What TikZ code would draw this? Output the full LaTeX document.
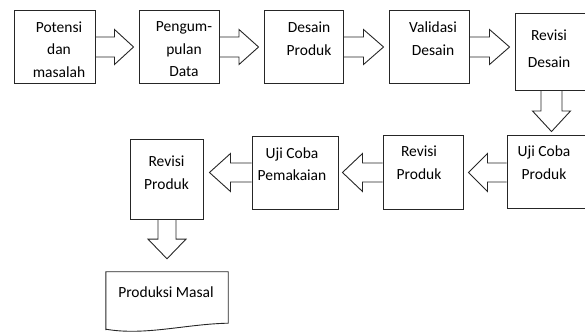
\documentclass[tikz,border=0pt]{standalone}
\usepackage{fontspec}
\setmainfont{Carlito}
\usetikzlibrary{calc}
\tikzset{
  box/.style={draw=black!85, line width=0.9pt, fill=white, inner sep=0pt},
  blk/.style={draw=black!85, line width=0.9pt, line join=miter},
  txt/.style={font=\fontsize{15.5}{22.5}\selectfont, align=center, inner sep=0pt, text=black},
}
% right-to-left / left-to-right block arrows: from, to, centre y, shaft half, head half, gap
\newcommand\rarr[6]{\draw[blk] let \p1=(#1.east), \p2=(#2.west), \n1={(\x1+\x2-#6)/2} in
  (\x1,#3+#4) -- (\n1,#3+#4) -- (\n1,#3+#5) -- (\x2-#6,#3) -- (\n1,#3-#5) -- (\n1,#3-#4) -- (\x1,#3-#4);}
\newcommand\larr[6]{\draw[blk] let \p1=(#1.west), \p2=(#2.east), \n1={(\x1+\x2+#6)/2} in
  (\x1,#3+#4) -- (\n1,#3+#4) -- (\n1,#3+#5) -- (\x2+#6,#3) -- (\n1,#3-#5) -- (\n1,#3-#4) -- (\x1,#3-#4);}
\newcommand\darr[6]{\draw[blk] let \p1=(#1.south), \p2=(#2.north), \n1={(\y1+\y2+#6)/2} in
  (#3-#4,\y1) -- (#3-#4,\n1) -- (#3-#5,\n1) -- (#3,\y2+#6) -- (#3+#5,\n1) -- (#3+#4,\n1) -- (#3+#4,\y1);}
\begin{document}
\begin{tikzpicture}[x=1pt,y=1pt]
\useasboundingbox (0,0) rectangle (585,336);
\clip (0,0) rectangle (585,336);
% boxes (row 1)
\node[box, minimum width=81, minimum height=73] (b1) at (54.5,289.5) {};
\node[box, minimum width=80, minimum height=73] (b2) at (179,289.5) {};
\node[box, minimum width=79, minimum height=73] (b3) at (303.5,289.5) {};
\node[box, minimum width=80, minimum height=73] (b4) at (429,289.5) {};
\node[box, minimum width=76, minimum height=77] (b5) at (553,284.5) {};
% boxes (row 2)
\node[box, minimum width=84, minimum height=73] (b6) at (549,164.5) {};
\node[box, minimum width=80, minimum height=74] (b7) at (423,164) {};
\node[box, minimum width=86, minimum height=73] (b8) at (295,163.5) {};
\node[box, minimum width=73, minimum height=80] (b9) at (166.5,157) {};
% document shape
\node[minimum width=122, minimum height=58, inner sep=0pt] (doc) at (167,35) {};
\draw[blk] (doc.south west) -- (doc.north west) -- (doc.north east) -- ([yshift=7]doc.south east)
  .. controls (186,12) and (145,0) .. ([yshift=1]doc.south west);
% arrows
\rarr{b1}{b2}{289}{10}{17.5}{5}
\rarr{b2}{b3}{289}{10}{17.5}{5}
\rarr{b3}{b4}{289}{10}{17.5}{5}
\rarr{b4}{b5}{289}{10}{17.5}{5}
\darr{b5}{b6}{551.5}{10.5}{19}{3}
\larr{b6}{b7}{163.5}{9.5}{19}{5}
\larr{b7}{b8}{163.5}{9.5}{19}{4}
\larr{b8}{b9}{163.5}{9.5}{19}{6}
\darr{b9}{doc}{167}{9}{19}{13}
% texts
\node[txt] (t1) at (59,286.5) {Potensi\\dan\\masalah};
\node[txt] (t2) at (184,286.5) {Pengum-\\pulan\\Data};
\node[txt] (t3) at (309,297.5) {Desain\\Produk};
\node[txt] (t4) at (433,297.5) {Validasi\\Desain};
\node[txt, font=\fontsize{15.5}{27}\selectfont] (t5) at (549,287.5) {Revisi\\Desain};
\node[txt] (t6) at (544,173.5) {Uji Coba\\Produk};
\node[txt] (t7) at (419,173.5) {Revisi\\Produk};
\node[txt] (t8) at (292,172) {Uji Coba\\Pemakaian};
\node[txt] (t9) at (166.5,163.5) {Revisi\\Produk};
\node[txt] (t10) at (166,44) {Produksi Masal};
\end{tikzpicture}
\end{document}
